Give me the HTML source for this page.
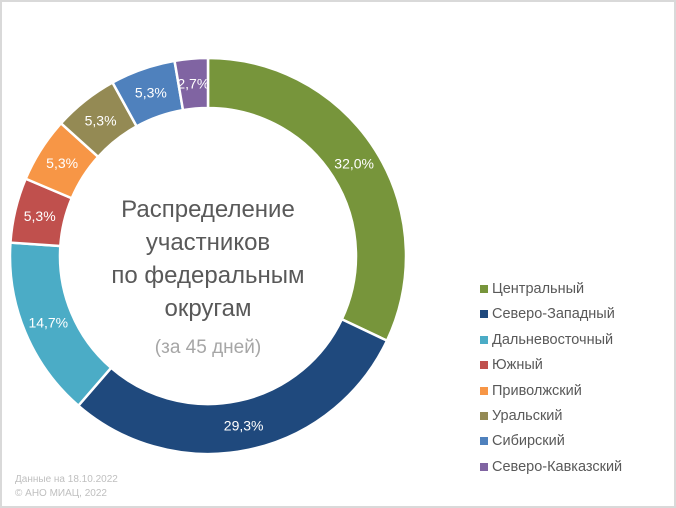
<!DOCTYPE html>
<html><head><meta charset="utf-8"><style>
body{margin:0;width:676px;height:508px;background:#fff;font-family:"Liberation Sans",sans-serif;overflow:hidden}
#frame{position:absolute;left:0;top:0;width:672px;height:504px;border:2px solid #d9d9d9;}
.leg{position:absolute;left:480px;font-size:14.5px;color:#595959;height:18px;line-height:18px}
.leg i{position:absolute;left:0;top:5px;width:8px;height:8px}
.leg span{position:absolute;left:12px;white-space:nowrap}
</style></head><body>
<div id="frame"></div>
<svg width="676" height="508" style="position:absolute;left:0;top:0">
<g id="slices"></g>
<g id="labels"></g>
<g font-family="Liberation Sans, sans-serif" text-anchor="middle" fill="#595959" font-size="24">
<text x="208" y="217">Распределение</text>
<text x="208" y="250">участников</text>
<text x="208" y="283">по федеральным</text>
<text x="208" y="316">округам</text>
<text x="208" y="353" font-size="19" fill="#a6a6a6">(за 45 дней)</text>
</g>
<g font-family="Liberation Sans, sans-serif" font-size="10" fill="#bfbfbf">
<text x="15" y="482">Данные на 18.10.2022</text>
<text x="15" y="496">© АНО МИАЦ, 2022</text>
</g>
</svg>
<div id="legend"></div>
<script>
const categories=["Центральный","Северо-Западный","Дальневосточный","Южный","Приволжский","Уральский","Сибирский","Северо-Кавказский"];
const values=[32.0,29.3,14.7,5.3,5.3,5.3,5.3,2.7];
const valueLabels=["32,0%","29,3%","14,7%","5,3%","5,3%","5,3%","5,3%","2,7%"];
const colors=["#77953B","#1F497D","#4BACC6","#C0504D","#F79646","#948A54","#4F81BD","#8064A2"];
const cx=208,cy=256,R=198,r=148,NS="http://www.w3.org/2000/svg";
const total=values.reduce((a,b)=>a+b,0);
function pt(rad,a){return [cx+rad*Math.sin(a),cy-rad*Math.cos(a)];}
let a0=0;
const sg=document.getElementById('slices'),lg=document.getElementById('labels');
values.forEach((v,i)=>{
  const a1=a0+v/total*2*Math.PI;
  const large=(a1-a0)>Math.PI?1:0;
  const p1=pt(R,a0),p2=pt(R,a1),p3=pt(r,a1),p4=pt(r,a0);
  const p=document.createElementNS(NS,'path');
  p.setAttribute('d',`M${p1[0]},${p1[1]}A${R},${R} 0 ${large} 1 ${p2[0]},${p2[1]}L${p3[0]},${p3[1]}A${r},${r} 0 ${large} 0 ${p4[0]},${p4[1]}Z`);
  p.setAttribute('fill',colors[i]);p.setAttribute('stroke','#fff');p.setAttribute('stroke-width','2.5');
  
  
  sg.appendChild(p);
  const m=pt((R+r)/2,(a0+a1)/2);
  const t=document.createElementNS(NS,'text');
  t.setAttribute('x',m[0]);t.setAttribute('y',m[1]+5);t.setAttribute('text-anchor','middle');
  t.setAttribute('fill','#fff');t.setAttribute('font-size','14');t.setAttribute('font-family','Liberation Sans, sans-serif');
  t.textContent=valueLabels[i];
  
  
  lg.appendChild(t);
  a0=a1;
});
const L=document.getElementById('legend');
categories.forEach((c,i)=>{
  const d=document.createElement('div');d.className='leg';d.style.top=(280+i*25.4)+'px';
  
  
  d.innerHTML='<i style="background:'+colors[i]+'"></i><span>'+c+'</span>';
  L.appendChild(d);
});
</script>
</body></html>
